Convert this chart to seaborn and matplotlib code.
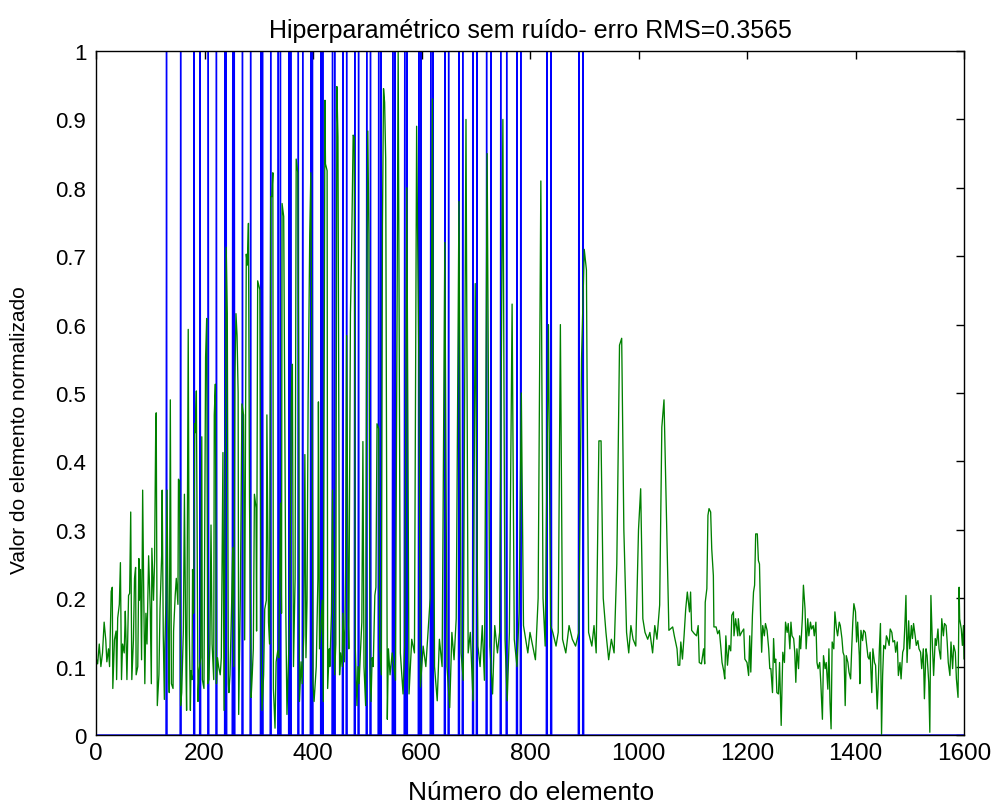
import numpy as np
import pandas as pd
import matplotlib
matplotlib.use("Agg")
import matplotlib.pyplot as plt
import seaborn as sns

# ---------------- data ----------------
n_elements = 1600
# positions of the true (blue) spikes, value 1
spike_positions = [130, 156, 181, 192, 207, 222, 238, 240, 252, 255, 270, 285, 304, 307,
                   322, 336, 340, 356, 359, 373, 381, 396, 399, 415, 418, 436, 440, 455,
                   462, 477, 484, 499, 506, 521, 525, 547, 551, 569, 573, 595, 599, 617,
                   621, 643, 650, 669, 676, 695, 702, 720, 728, 746, 757, 776, 783, 831,
                   839, 890, 898]

# estimated (green) signal, vertices
est_x1 = [0, 3, 6, 9, 12, 15, 18, 20, 23, 25, 28, 30, 31, 34, 37, 38, 40, 43, 45, 47,
          49, 52, 54, 55, 57, 60, 62, 64, 66, 69, 71, 73, 74, 77, 79, 80, 82, 84, 86, 88,
          90, 92, 94, 97, 100, 102, 103, 106, 108, 110, 111, 113, 116, 118, 121, 122, 124,
          126, 127, 129, 131, 133, 135, 137, 139, 142, 143, 146, 148, 151, 152, 154, 156,
          158, 161, 163, 166, 167, 170, 172, 174, 175, 177, 178, 180, 182, 183, 185, 188,
          190, 193, 195, 196, 199, 201, 202, 204, 206, 208, 210, 212, 214, 217, 218, 220,
          222, 224, 226, 229, 231, 234, 236, 238, 240, 242, 244, 245, 247, 250, 252, 254,
          256, 258, 260, 262, 263]
est_y1 = [0.113, 0.104, 0.133, 0.10, 0.12, 0.165, 0.139, 0.107, 0.126, 0.10,
          0.21, 0.216, 0.068, 0.139, 0.152, 0.081, 0.171, 0.191, 0.252, 0.081,
          0.133, 0.12, 0.181, 0.152, 0.081, 0.204, 0.207, 0.326, 0.081, 0.139,
          0.229, 0.245, 0.088, 0.10, 0.258, 0.197, 0.242, 0.11, 0.358, 0.204,
          0.075, 0.178, 0.133, 0.262, 0.184, 0.075, 0.273, 0.197, 0.255, 0.442,
          0.471, 0.043, 0.088, 0.184, 0.262, 0.358, 0.146, 0.052, 0.133, 0.197,
          0.358, 0.152, 0.062, 0.49, 0.075, 0.068, 0.152, 0.204, 0.229, 0.191,
          0.374, 0.371, 0.043, 0.062, 0.152, 0.352, 0.088, 0.036, 0.593, 0.152,
          0.036, 0.094, 0.081, 0.242, 0.178, 0.455, 0.442, 0.503, 0.049, 0.094,
          0.113, 0.436, 0.081, 0.068, 0.403, 0.552, 0.609, 0.075, 0.081, 0.133,
          0.307, 0.133, 0.081, 0.468, 0.513, 0.075, 0.113, 0.10, 0.088, 0.113,
          0.413, 0.036, 0.326, 0.713, 0.616, 0.075, 0.062, 0.088, 0.191, 0.274,
          0.10, 0.519, 0.616, 0.584, 0.50, 0.03]

est_x2 = [266, 269, 272, 274, 277, 279, 281, 283, 286, 288, 290, 292, 295, 296, 298, 302,
          304, 306, 309, 311, 314, 315, 318, 320, 322, 324, 326, 327, 330, 332, 335, 337,
          340, 342, 343, 346, 350, 352, 354, 357, 360, 362, 364, 367, 369, 372, 374, 375,
          378, 380, 383, 385, 387, 389, 391, 394, 396, 398, 400, 402, 406, 409, 410, 412,
          415, 417, 419, 422, 423, 426, 427, 430, 431, 434, 436, 438, 440, 442, 444, 446,
          449, 451, 454, 455, 458, 460, 462, 465, 466, 469, 471, 474, 476, 478, 481, 483,
          485, 487, 490, 492, 494, 497, 499, 501, 503, 505, 507, 509, 511, 514, 516, 518,
          521, 523, 526, 528, 530, 532, 534, 537, 539, 542]
est_y2 = [0.197, 0.484, 0.468, 0.139, 0.703, 0.687, 0.748, 0.339, 0.055, 0.088,
          0.126, 0.352, 0.332, 0.152, 0.664, 0.651, 0.146, 0.036, 0.088, 0.184,
          0.197, 0.468, 0.165, 0.133, 0.787, 0.787, 0.822, 0.068, 0.01, 0.107,
          0.123, 0.113, 0.339, 0.178, 0.777, 0.758, 0.171, 0.03, 0.088, 0.171,
          0.487, 0.542, 0.10, 0.229, 0.842, 0.822, 0.442, 0.049, 0.107, 0.075,
          0.146, 0.41, 0.113, 0.197, 0.487, 0.732, 0.822, 0.552, 0.075, 0.049,
          0.10, 0.229, 0.487, 0.126, 0.165, 0.197, 0.049, 0.928, 0.835, 0.825,
          0.068, 0.126, 0.10, 0.178, 0.358, 0.178, 0.088, 0.133, 0.948, 0.874,
          0.088, 0.12, 0.10, 0.178, 0.107, 0.242, 0.584, 0.165, 0.126, 0.616,
          0.70, 0.877, 0.874, 0.126, 0.043, 0.10, 0.075, 0.113, 0.165, 0.429,
          0.10, 0.043, 0.616, 0.883, 0.732, 0.10, 0.049, 0.113, 0.10, 0.204,
          0.216, 0.455, 0.448, 0.126, 0.088, 0.745, 0.945, 0.925, 0.842, 0.023,
          0.126, 0.088]

est_x3 = [546, 552, 557, 561, 566, 569, 573, 577, 582, 587, 591, 595, 598, 603, 608, 612,
          616, 620, 624, 629, 633, 638, 643, 647, 652, 656, 660, 664, 669, 673, 677, 682,
          686, 690, 695, 699, 704, 708, 712, 716, 721, 726, 731, 735, 740, 744, 750, 754,
          758, 762, 767, 771, 776, 780, 784, 788, 792, 796, 800, 805, 810, 815, 820, 824,
          828, 834, 838, 842, 848, 852, 856, 860, 866, 872, 878, 884, 890, 895, 900, 904,
          908, 914, 918, 922, 927, 931, 935, 940, 945, 950, 955, 960, 965, 969, 973, 978,
          982, 986, 990, 995, 1000, 1004, 1008, 1012, 1017, 1021, 1026, 1030, 1034, 1039,
          1043, 1047]
est_y3 = [0.12, 0.08, 1.0, 0.12, 0.06, 0.13, 0.80, 0.06, 0.14, 0.12,
          0.89, 0.55, 0.07, 0.13, 0.10, 0.15, 0.20, 0.93, 0.10, 0.05,
          0.14, 0.10, 0.72, 0.10, 0.04, 0.15, 0.11, 0.17, 0.78, 0.12,
          0.08, 0.90, 0.12, 0.15, 0.05, 0.66, 0.13, 0.10, 0.16, 0.08,
          0.85, 0.13, 0.06, 0.16, 0.12, 0.15, 0.90, 0.14, 0.05, 0.15,
          0.63, 0.14, 0.10, 0.18, 0.50, 0.16, 0.14, 0.12, 0.15, 0.13,
          0.11, 0.20, 0.81, 0.20, 0.13, 0.60, 0.16, 0.15, 0.13, 0.15,
          0.60, 0.14, 0.12, 0.16, 0.14, 0.13, 0.15, 0.55, 0.71, 0.68,
          0.15, 0.13, 0.16, 0.12, 0.43, 0.43, 0.20, 0.15, 0.11, 0.14,
          0.12, 0.25, 0.57, 0.58, 0.30, 0.15, 0.12, 0.16, 0.14, 0.13,
          0.30, 0.36, 0.17, 0.15, 0.14, 0.15, 0.12, 0.16, 0.14, 0.19,
          0.45, 0.49]

est_x4 = [1056, 1063, 1066, 1071, 1073, 1076, 1078, 1081, 1084, 1087,
          1090, 1094, 1096, 1098, 1103, 1107, 1110, 1112, 1116, 1120,
          1122, 1123, 1126, 1128, 1130, 1133, 1135, 1138, 1139, 1143,
          1146, 1149, 1152, 1154, 1157, 1159, 1161, 1164, 1167, 1170,
          1172, 1175, 1176, 1179, 1183, 1184, 1187, 1190, 1194, 1196,
          1200, 1203, 1205, 1207, 1210, 1212, 1214, 1216, 1219, 1221,
          1223, 1225, 1227, 1229, 1232, 1234, 1237, 1240, 1242, 1244,
          1247, 1249, 1251, 1253, 1255, 1258, 1260, 1263, 1266, 1269,
          1271, 1274, 1276, 1279, 1281, 1283, 1286, 1288, 1290, 1292,
          1295, 1297, 1299, 1302, 1304, 1307, 1309, 1312, 1314, 1317,
          1319, 1322, 1324, 1327, 1329, 1331, 1334, 1336, 1339, 1341,
          1344, 1346, 1349, 1351, 1353, 1355, 1357, 1360, 1362, 1365,
          1367, 1370, 1372, 1375, 1377, 1379, 1381, 1383, 1386, 1388,
          1391, 1393, 1395, 1397, 1400, 1402, 1404, 1407, 1408, 1410,
          1413, 1415, 1418, 1420, 1423, 1425, 1427, 1430, 1432, 1435,
          1437, 1440, 1442, 1444, 1446, 1448, 1450, 1452, 1455, 1457,
          1459, 1462, 1464, 1467, 1469, 1472, 1474, 1477, 1479, 1482,
          1484, 1487, 1489, 1491, 1493, 1495, 1498, 1500, 1503, 1505,
          1507, 1510, 1512, 1515, 1517, 1520, 1522, 1525, 1527, 1530,
          1532, 1535, 1537, 1539, 1542, 1544, 1547, 1549, 1552, 1554,
          1557, 1559, 1562, 1564, 1567, 1569, 1571, 1574, 1576, 1579,
          1581, 1584, 1586, 1589, 1591, 1592, 1595, 1597, 1599, 1600]
est_y4 = [0.153, 0.158, 0.145, 0.126, 0.102, 0.102, 0.136, 0.111, 0.145, 0.184,
          0.209, 0.180, 0.209, 0.153, 0.148, 0.145, 0.160, 0.106, 0.104, 0.126,
          0.104, 0.194, 0.214, 0.321, 0.331, 0.326, 0.272, 0.233, 0.158, 0.158,
          0.148, 0.153, 0.126, 0.106, 0.094, 0.082, 0.145, 0.102, 0.131, 0.123,
          0.175, 0.180, 0.145, 0.170, 0.145, 0.170, 0.145, 0.150, 0.155, 0.111,
          0.106, 0.087, 0.145, 0.092, 0.175, 0.209, 0.219, 0.294, 0.294, 0.255,
          0.250, 0.175, 0.121, 0.160, 0.145, 0.163, 0.153, 0.126, 0.097, 0.097,
          0.062, 0.141, 0.106, 0.111, 0.062, 0.060, 0.106, 0.014, 0.121, 0.106,
          0.165, 0.150, 0.163, 0.126, 0.165, 0.145, 0.141, 0.121, 0.077, 0.126,
          0.097, 0.145, 0.126, 0.170, 0.219, 0.184, 0.126, 0.170, 0.145, 0.165,
          0.155, 0.160, 0.145, 0.165, 0.106, 0.097, 0.106, 0.077, 0.023, 0.116,
          0.097, 0.106, 0.067, 0.126, 0.048, 0.009, 0.136, 0.126, 0.180, 0.155,
          0.145, 0.165, 0.160, 0.141, 0.121, 0.116, 0.043, 0.116, 0.106, 0.092,
          0.082, 0.126, 0.165, 0.192, 0.180, 0.136, 0.165, 0.116, 0.075, 0.153,
          0.138, 0.153, 0.150, 0.136, 0.114, 0.111, 0.121, 0.062, 0.126, 0.106,
          0.102, 0.038, 0.077, 0.126, 0.163, 0.001, 0.087, 0.131, 0.126, 0.145,
          0.141, 0.131, 0.155, 0.150, 0.136, 0.138, 0.121, 0.136, 0.087, 0.106,
          0.082, 0.121, 0.126, 0.160, 0.204, 0.106, 0.167, 0.126, 0.160, 0.141,
          0.163, 0.145, 0.131, 0.138, 0.126, 0.121, 0.097, 0.126, 0.053, 0.126,
          0.116, 0.077, 0.004, 0.204, 0.126, 0.087, 0.141, 0.131, 0.155, 0.126,
          0.111, 0.170, 0.145, 0.163, 0.160, 0.136, 0.106, 0.087, 0.136, 0.097,
          0.131, 0.121, 0.082, 0.055, 0.216, 0.170, 0.155, 0.131, 0.160, 0.111]

x_ticks = [0, 200, 400, 600, 800, 1000, 1200, 1400, 1600]
y_ticks = [0, 0.1, 0.2, 0.3, 0.4, 0.5, 0.6, 0.7, 0.8, 0.9, 1]
y_tick_labels = ["0", "0.1", "0.2", "0.3", "0.4", "0.5", "0.6", "0.7", "0.8", "0.9", "1"]
title_text = "Hiperparamétrico sem ruído- erro RMS=0.3565"
x_label = "Número do elemento"
y_label = "Valor do elemento normalizado"

# ---------------- build frames ----------------
true_signal = np.zeros(n_elements)
true_signal[np.array(spike_positions) - 1] = 1.0
df_true = pd.DataFrame({"x": np.arange(1, n_elements + 1), "y": true_signal})

est_x = est_x1 + est_x2 + est_x3 + est_x4
est_y = est_y1 + est_y2 + est_y3 + est_y4
df_est = pd.DataFrame({"x": est_x, "y": est_y})

# ---------------- plot ----------------
sns.set_style("white")
plt.rcParams["font.family"] = ["Liberation Sans", "DejaVu Sans"]
plt.rcParams["text.color"] = "black"
plt.rcParams["axes.labelcolor"] = "black"

fig = plt.figure(figsize=(9.95, 8.04), dpi=100)
ax = fig.add_axes([96 / 995, 68 / 804, 868 / 995, 684 / 804])

sns.lineplot(data=df_true, x="x", y="y", color="#0000ff", linewidth=1.0,
             estimator=None, sort=False, ax=ax)
sns.lineplot(data=df_est, x="x", y="y", color="#008000", linewidth=0.95,
             estimator=None, sort=False, ax=ax)

ax.set_xlim(0, 1600)
ax.set_ylim(0, 1)
ax.set_xticks(x_ticks)
ax.set_xticklabels([str(t) for t in x_ticks])
ax.set_yticks(y_ticks)
ax.set_yticklabels(y_tick_labels)
ax.tick_params(direction="in", length=6, width=1, top=True, right=True,
               colors="black")
ax.tick_params(axis="x", labelsize=17.5, pad=5)
ax.tick_params(axis="y", labelsize=16, pad=7)
for s in ax.spines.values():
    s.set_color("black")
    s.set_linewidth(1.0)
ax.set_title(title_text, fontsize=18, pad=10, color="black")
ax.set_xlabel(x_label, fontsize=19, color="black")
ax.set_ylabel(y_label, fontsize=15, color="black")
ax.xaxis.set_label_coords(0.501, -0.066)
ax.yaxis.set_label_coords(-0.077, 0.447)

fig.savefig("out.png", dpi=100)
